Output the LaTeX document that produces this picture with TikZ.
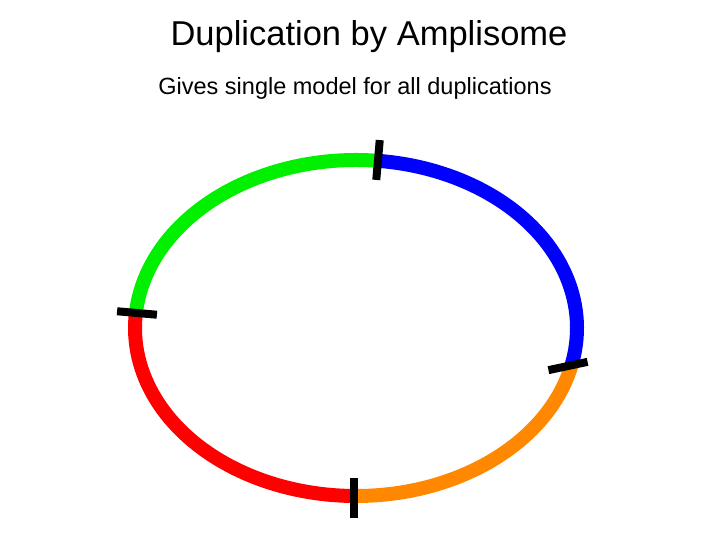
\documentclass[tikz,border=0pt]{standalone}
\usepackage{fontspec}
\setmainfont{Liberation Sans}
\begin{document}
\begin{tikzpicture}[x=1pt,y=1pt,
 seg/.style={line width=14pt},
 bar/.style={fill=black,rectangle,minimum width=8pt,minimum height=40pt,inner sep=0pt}]
\useasboundingbox (0,0) rectangle (720,540);
\coordinate (c) at (356,212);
\node (title) at (369,503) {\fontsize{34.5}{40}\selectfont Duplication by Amplisome};
\node (sub) at (355,452) {\fontsize{23.5}{28}\selectfont Gives single model for all duplications};
\draw[seg,color={rgb,255:red,0;green,240;blue,0}] (c) ++(84:221 and 168) arc[start angle=84,end angle=175,x radius=221,y radius=168];
\draw[seg,color={rgb,255:red,255;green,0;blue,0}] (c) ++(175:221 and 168) arc[start angle=175,end angle=270,x radius=221,y radius=168];
\draw[seg,color={rgb,255:red,255;green,136;blue,0}] (c) ++(270:221 and 168) arc[start angle=270,end angle=347,x radius=221,y radius=168];
\draw[seg,color={rgb,255:red,0;green,0;blue,255}] (c) ++(347:221 and 168) arc[start angle=347,end angle=444,x radius=221,y radius=168];
\node[bar,rotate=-5] (m1) at (378,380) {};
\node[bar,rotate=85] (m2) at (137,227) {};
\node[bar,rotate=-78] (m3) at (568,174) {};
\node[bar] (m4) at (354,42) {};
\end{tikzpicture}
\end{document}
